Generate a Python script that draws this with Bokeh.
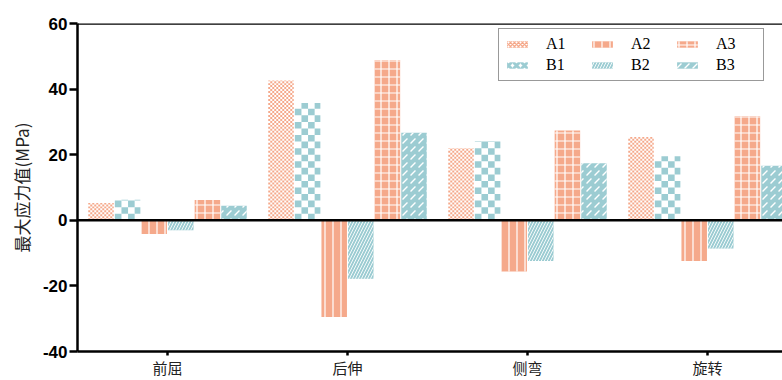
import math
from bokeh.plotting import figure
from bokeh.models import Range1d, FixedTicker, Span, Legend, ColumnDataSource
from bokeh.embed import file_html
from bokeh.resources import INLINE

# ---- data ----
categories = ['前屈', '后伸', '侧弯', '旋转']
series_names = ['A1', 'B1', 'A2', 'B2', 'A3', 'B3']
A1 = [5.3, 42.6, 22.0, 25.4]
B1 = [6.3, 35.8, 24.2, 19.5]
A2 = [-4.2, -29.5, -15.6, -12.4]
B2 = [-3.0, -17.8, -12.4, -8.6]
A3 = [6.2, 48.9, 27.4, 31.7]
B3 = [4.4, 26.7, 17.4, 16.6]
y_ticks = [-40, -20, 0, 20, 40, 60]
y_tick_labels = ['-40', '-20', '0', '20', '40', '60']
series_values = [A1, B1, A2, B2, A3, B3]

PINK = "#F5A98B"
TEAL = "#9CCCD2"

W, H = 782, 380
left, top, bottom = 77, 23, 27
frame_h = H - top - bottom
group_px = 180.0
x_end = (W - left) / group_px
y_lo, y_hi = -40, 60
px_per_y = frame_h / (y_hi - y_lo)

p = figure(width=W, height=H, output_backend="svg", toolbar_location=None,
           x_range=Range1d(0, x_end), y_range=Range1d(y_lo, y_hi),
           min_border_left=left, min_border_top=top, min_border_bottom=bottom,
           min_border_right=0)
p.outline_line_color = None
p.grid.visible = False
p.background_fill_color = "white"
p.border_fill_color = "white"

bar_step = 26.6 / group_px
bar_w = 25.5 / group_px

# hatch styles (built-in patterns); A1/B1 are checkerboards drawn as cells
styles = {
    'A1': dict(fill_color="white"),
    'B1': dict(fill_color="white"),
    'A2': dict(fill_color=PINK, hatch_pattern="vertical_line", hatch_color="white", hatch_scale=8, hatch_weight=1.2),
    'B2': dict(fill_color=TEAL, hatch_pattern="right_diagonal_line", hatch_color="white", hatch_scale=6, hatch_weight=0.9),
    'A3': dict(fill_color=PINK, hatch_pattern="cross", hatch_color="white", hatch_scale=8, hatch_weight=1.2),
    'B3': dict(fill_color=TEAL, hatch_pattern="right_diagonal_dash", hatch_color="white", hatch_scale=8, hatch_weight=1.3),
}
checker_spec = {'A1': (PINK, 2.0), 'B1': (TEAL, 6.6)}
legend_proxy = {
    'A1': dict(fill_color="white", hatch_pattern="diagonal_cross", hatch_color=PINK, hatch_scale=4, hatch_weight=1.5),
    'B1': dict(fill_color="white", hatch_pattern="diagonal_cross", hatch_color=TEAL, hatch_scale=8, hatch_weight=3),
}


def checker_cells(xcs, vals, width, cell_px):
    dx = cell_px / group_px
    dy = cell_px / px_per_y
    L, R, T, B = [], [], [], []
    for xc, v in zip(xcs, vals):
        x0 = xc - width / 2
        x1 = xc + width / 2
        ncol = int(math.ceil(width / dx - 1e-9))
        nrow = int(math.ceil(abs(v) / dy - 1e-9))
        sgn = 1 if v >= 0 else -1
        for r in range(nrow):
            for c in range(ncol):
                if (r + c) % 2:
                    continue
                L.append(x0 + c * dx)
                R.append(min(x0 + (c + 1) * dx, x1))
                ya_ = sgn * r * dy
                yb_ = sgn * min((r + 1) * dy, abs(v))
                B.append(min(ya_, yb_))
                T.append(max(ya_, yb_))
    return dict(left=L, right=R, top=T, bottom=B)


legend_items = []
for k, (name, vals) in enumerate(zip(series_names, series_values)):
    off = (k - 2.5) * bar_step
    xs = [i + 0.5 + off for i in range(len(categories))]
    src = ColumnDataSource(dict(x=xs, top=vals))
    r = p.vbar(x='x', top='top', bottom=0, width=bar_w, source=src,
               line_color=None, **styles[name])
    if name in checker_spec:
        col, cpx = checker_spec[name]
        cells = ColumnDataSource(checker_cells(xs, vals, bar_w, cpx))
        p.quad(left='left', right='right', top='top', bottom='bottom', source=cells,
               fill_color=col, line_color=None)
        # zero-height proxy bars that only supply the legend swatch
        proxy_src = ColumnDataSource(dict(x=xs, top=vals))
        proxy = p.vbar(x='x', top='top', bottom='top', width=bar_w, source=proxy_src,
                       line_color=None, **legend_proxy[name])
        legend_items.append((name, [proxy]))
    else:
        legend_items.append((name, [r]))

# zero line and top border
p.add_layout(Span(location=0, dimension='width', line_color='black', line_width=2.5))
p.add_layout(Span(location=y_hi, dimension='width', line_color='black', line_width=2.5))

# y axis
ya = p.yaxis[0]
ya.ticker = FixedTicker(ticks=y_ticks)
ya.major_label_overrides = {t: s for t, s in zip(y_ticks, y_tick_labels)}
ya.minor_tick_line_color = None
ya.axis_line_width = 2.5
ya.axis_line_color = 'black'
ya.major_tick_line_width = 2.5
ya.major_tick_line_color = 'black'
ya.major_tick_out = 8
ya.major_tick_in = 0
ya.major_label_text_font = "Liberation Sans"
ya.major_label_text_font_style = "bold"
ya.major_label_text_font_size = "17px"
ya.major_label_text_color = "black"
ya.major_label_standoff = 2
ya.axis_label = "最大应力值(MPa)"
ya.axis_label_text_font = "Noto Sans CJK SC"
ya.axis_label_text_font_style = "normal"
ya.axis_label_text_font_size = "17px"
ya.axis_label_text_color = "#222222"
ya.axis_label_standoff = 6

# x axis
xa = p.xaxis[0]
centers = [i + 0.5 for i in range(len(categories))]
xa.ticker = FixedTicker(ticks=centers)
xa.major_label_overrides = {c: lab for c, lab in zip(centers, categories)}
xa.major_label_text_font = "Noto Sans CJK SC"
xa.major_label_text_font_size = "15px"
xa.major_label_text_color = "#222222"
xa.major_label_standoff = 1
xa.minor_tick_line_color = None
xa.axis_line_width = 2.5
xa.axis_line_color = 'black'
xa.major_tick_line_width = 2.5
xa.major_tick_line_color = 'black'
xa.major_tick_out = 4
xa.major_tick_in = 0

legend = Legend(items=legend_items, location=(421, 270), orientation="vertical", ncols=3,
                glyph_width=26, glyph_height=8, label_standoff=16, label_width=42,
                label_height=20, spacing=1, padding=5, margin=0,
                label_text_font="Liberation Serif", label_text_font_size="16px",
                label_text_color="black",
                border_line_color="#333333", border_line_width=1.5,
                background_fill_color="white", background_fill_alpha=1)
p.add_layout(legend, 'center')

open("out.html", "w").write(file_html(p, INLINE))
